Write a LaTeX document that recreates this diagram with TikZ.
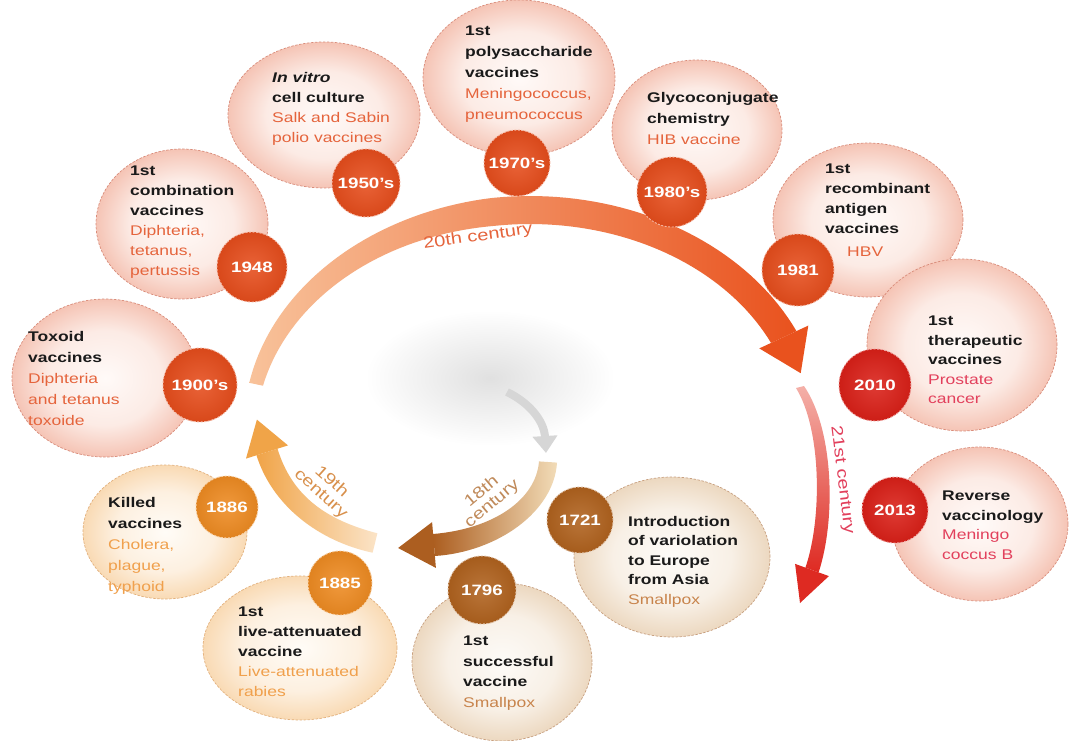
\documentclass[tikz,border=0pt]{standalone}
\usepackage{fontspec}
\setmainfont{Liberation Sans}[FakeStretch=1.25]
\usetikzlibrary{shapes.geometric,arrows.meta}
\definecolor{pinkin}{HTML}{FFFAF8}
\definecolor{pinkmid}{HTML}{FCEBE5}
\definecolor{pinkout}{HTML}{F5C4B5}
\definecolor{pinkline}{HTML}{D98C7A}
\definecolor{peachin}{HTML}{FFFCF7}
\definecolor{peachmid}{HTML}{FDF0E0}
\definecolor{peachout}{HTML}{F9DAB4}
\definecolor{peachline}{HTML}{E2B07C}
\definecolor{tanin}{HTML}{FDFBF8}
\definecolor{tanmid}{HTML}{F8F0E6}
\definecolor{tanout}{HTML}{ECD8C0}
\definecolor{tanline}{HTML}{C8A080}
\definecolor{bdA}{HTML}{E64D1C}
\definecolor{bdB}{HTML}{DA2018}
\definecolor{bdC}{HTML}{EE8B22}
\definecolor{bdD}{HTML}{B0621E}
\definecolor{subA}{HTML}{E5643C}
\definecolor{subB}{HTML}{E2405C}
\definecolor{subC}{HTML}{F0A04C}
\definecolor{subD}{HTML}{C8844C}
\definecolor{labC}{HTML}{D8904C}
\definecolor{labD}{HTML}{C08A5A}
\definecolor{ink}{HTML}{1A1A1A}
\definecolor{arrAs}{HTML}{F8C29A}
\definecolor{arrAm}{HTML}{F07232}
\definecolor{arrAe}{HTML}{E9521E}
\definecolor{arrBs}{HTML}{F4B0A8}
\definecolor{arrBe}{HTML}{DE2A22}
\definecolor{arrCs}{HTML}{FBE4C8}
\definecolor{arrCe}{HTML}{F0A448}
\definecolor{arrDs}{HTML}{F2DCB8}
\definecolor{arrDe}{HTML}{AC5E20}
\pgfdeclareradialshading{pinkshade}{\pgfpoint{0bp}{0bp}}{color(0bp)=(pinkin); color(15bp)=(pinkmid); color(25bp)=(pinkout); color(50bp)=(pinkout)}
\pgfdeclareradialshading{peachshade}{\pgfpoint{0bp}{0bp}}{color(0bp)=(peachin); color(15bp)=(peachmid); color(25bp)=(peachout); color(50bp)=(peachout)}
\pgfdeclareradialshading{tanshade}{\pgfpoint{0bp}{0bp}}{color(0bp)=(tanin); color(15bp)=(tanmid); color(25bp)=(tanout); color(50bp)=(tanout)}
\newcommand\stA[1]{\textcolor{subA}{#1}}
\newcommand\stB[1]{\textcolor{subB}{#1}}
\newcommand\stC[1]{\textcolor{subC}{#1}}
\newcommand\stD[1]{\textcolor{subD}{#1}}
\begin{document}
\begin{tikzpicture}[x=1pt,y=-1pt,
  declare function={wt(\t)=min(28,14+14*(168-\t)/70);},
  bub/.style={ellipse, inner sep=0pt, dash pattern=on 2.5pt off 1.5pt, line width=0.7pt},
  pinkb/.style={bub, shade, shading=pinkshade, draw=pinkline},
  peachb/.style={bub, shade, shading=peachshade, draw=peachline},
  tanb/.style={bub, shade, shading=tanshade, draw=tanline},
  badge/.style={circle, inner sep=0pt, text=white, font=\bfseries\fontsize{15}{15}\selectfont,
     dash pattern=on 2pt off 1.5pt, line width=0.9pt},
  bA/.style={badge, inner color=bdA!88!white, outer color=bdA!94!black, draw=bdA!40!white},
  bB/.style={badge, inner color=bdB!88!white, outer color=bdB!94!black, draw=bdB!40!white},
  bC/.style={badge, inner color=bdC!88!white, outer color=bdC!94!black, draw=bdC!40!white},
  bD/.style={badge, inner color=bdD!88!white, outer color=bdD!94!black, draw=bdD!40!white},
  txt/.style={anchor=north west, inner sep=0pt, align=left, text=ink},
  lab/.style={inner sep=0pt, align=center, font=\fontsize{16}{16}\selectfont}
]
\useasboundingbox (0,0) rectangle (1071,741);
\fill[white] (0,0) rectangle (1071,741);

% central haze and grey arrow
\shade[inner color=gray!24, outer color=white] (490,378) ellipse [x radius=125pt, y radius=68pt];
\coordinate (g1) at (507,392);
\coordinate (g2) at (546,453);
\draw[line width=8pt, gray!32, -{Triangle[width=24pt,length=17pt]}] (g1) .. controls (528,402) and (544,420) .. (g2);

% 20th century arrow
\shade[left color=arrAs, middle color=arrAm, right color=arrAe]
  plot[domain=168:25, samples=80] ({530+(280+wt(\x)/2)*cos(\x)}, {430-(220+wt(\x)/2)*sin(\x)})
  -- plot[domain=25:168, samples=80] ({530+(280-wt(\x)/2)*cos(\x)}, {430-(220-wt(\x)/2)*sin(\x)}) -- cycle;
\fill[arrAe] (808.3,325.6) -- (800.7,373.2) -- (759.3,348.4) -- cycle;

% 21st century arrow
\shade[top color=arrBs, bottom color=arrBe]
  (796,388) .. controls (822,430) and (822,520) .. (805.4,567.6)
  -- (818.6,572.4) .. controls (836,520) and (834,430) .. (804,386) -- cycle;
\fill[arrBe] (795.1,563.9) -- (800,603) -- (828.9,576.1) -- cycle;

% 18th century arrow
\shade[left color=arrDe, right color=arrDs]
  (557,462.6) .. controls (554,512) and (497,552) .. (434.9,556)
  -- (433.1,534) .. controls (493,529) and (536,500) .. (539,461.4) -- cycle;
\fill[arrDe] (435.9,567.9) -- (398.1,548) -- (432.1,522.1) -- cycle;

% 19th century arrow
\shade[left color=arrCe, right color=arrCs]
  (372.6,552.7) .. controls (318,541) and (272,505) .. (256.5,455.3)
  -- (277.5,448.7) .. controls (292,496) and (326,520) .. (377.4,533.3) -- cycle;
\fill[arrCe] (288,445.4) -- (256.9,419.6) -- (246,458.6) -- cycle;

% arrow labels
\node[lab, text=subA, rotate=8] (l20) at (478,237) {20th century};
\node[lab, text=subB, rotate=-83] (l21) at (842,480) {21st century};
\node[lab, text=labC, rotate=-42] (l19) at (326,488) {19th\\century};
\node[lab, text=labD, rotate=40] (l18) at (487,498) {18th\\century};

% bubbles
\node[pinkb, minimum width=186pt, minimum height=158pt] (b1) at (105,378) {};
\node[pinkb, minimum width=172pt, minimum height=150pt] (b2) at (182,224) {};
\node[pinkb, minimum width=192pt, minimum height=146pt] (b3) at (324,115) {};
\node[pinkb, minimum width=192pt, minimum height=156pt] (b4) at (519,78) {};
\node[pinkb, minimum width=170pt, minimum height=140pt] (b5) at (697,130) {};
\node[pinkb, minimum width=190pt, minimum height=154pt] (b6) at (868,220) {};
\node[pinkb, minimum width=190pt, minimum height=172pt] (b7) at (962,345) {};
\node[pinkb, minimum width=176pt, minimum height=154pt] (b8) at (980,524) {};
\node[tanb, minimum width=196pt, minimum height=160pt] (b9) at (672,557) {};
\node[tanb, minimum width=180pt, minimum height=158pt] (b10) at (502,662) {};
\node[peachb, minimum width=194pt, minimum height=144pt] (b11) at (300,648) {};
\node[peachb, minimum width=164pt, minimum height=134pt] (b12) at (165,532) {};

% badges
\node[bA, minimum size=74pt] (y1) at (200,385) {1900's};
\node[bA, minimum size=70pt] (y2) at (252,267) {1948};
\node[bA, minimum size=68pt] (y3) at (366,183) {1950's};
\node[bA, minimum size=66pt] (y4) at (517,163) {1970's};
\node[bA, minimum size=70pt] (y5) at (672,192) {1980's};
\node[bA, minimum size=72pt] (y6) at (798,270) {1981};
\node[bB, minimum size=72pt] (y7) at (875,385) {2010};
\node[bB, minimum size=66pt] (y8) at (895,510) {2013};
\node[bD, minimum size=66pt] (y9) at (580,520) {1721};
\node[bD, minimum size=68pt] (y10) at (482,590) {1796};
\node[bC, minimum size=64pt] (y11) at (340,583) {1885};
\node[bC, minimum size=62pt] (y12) at (227,507) {1886};

% texts
\node[txt, font=\fontsize{14}{21}\selectfont] (t1) at (28,331)
  {\textbf{Toxoid}\\\textbf{vaccines}\\\stA{Diphteria}\\\stA{and tetanus}\\\stA{toxoide}};
\node[txt, font=\fontsize{14}{20}\selectfont] (t2) at (130,166)
  {\textbf{1st}\\\textbf{combination}\\\textbf{vaccines}\\\stA{Diphteria,}\\\stA{tetanus,}\\\stA{pertussis}};
\node[txt, font=\fontsize{14}{20}\selectfont] (t3) at (272,72)
  {\textbf{\textit{In vitro}}\\\textbf{cell culture}\\\stA{Salk and Sabin}\\\stA{polio vaccines}};
\node[txt, font=\fontsize{14}{21}\selectfont] (t4) at (465,26)
  {\textbf{1st}\\\textbf{polysaccharide}\\\textbf{vaccines}\\\stA{Meningococcus,}\\\stA{pneumococcus}};
\node[txt, font=\fontsize{14}{21}\selectfont] (t5) at (647,92)
  {\textbf{Glycoconjugate}\\\textbf{chemistry}\\\stA{HIB vaccine}};
\node[txt, font=\fontsize{14}{20}\selectfont] (t6) at (825,164)
  {\textbf{1st}\\\textbf{recombinant}\\\textbf{antigen}\\\textbf{vaccines}};
\node[txt, font=\fontsize{14}{20}\selectfont] (t6s) at (847,247) {\stA{HBV}};
\node[txt, font=\fontsize{14}{19.5}\selectfont] (t7) at (928,316)
  {\textbf{1st}\\\textbf{therapeutic}\\\textbf{vaccines}\\\stB{Prostate}\\\stB{cancer}};
\node[txt, font=\fontsize{14}{19.5}\selectfont] (t8) at (942,491)
  {\textbf{Reverse}\\\textbf{vaccinology}\\\stB{Meningo}\\\stB{coccus B}};
\node[txt, font=\fontsize{14}{19.5}\selectfont] (t9) at (628,516)
  {\textbf{Introduction}\\\textbf{of variolation}\\\textbf{to Europe}\\\textbf{from Asia}\\\stD{Smallpox}};
\node[txt, font=\fontsize{14}{20.5}\selectfont] (t10) at (463,636)
  {\textbf{1st}\\\textbf{successful}\\\textbf{vaccine}\\\stD{Smallpox}};
\node[txt, font=\fontsize{14}{20}\selectfont] (t11) at (238,607)
  {\textbf{1st}\\\textbf{live-attenuated}\\\textbf{vaccine}\\\stC{Live-attenuated}\\\stC{rabies}};
\node[txt, font=\fontsize{14}{21}\selectfont] (t12) at (108,497)
  {\textbf{Killed}\\\textbf{vaccines}\\\stC{Cholera,}\\\stC{plague,}\\\stC{typhoid}};
\end{tikzpicture}
\end{document}
